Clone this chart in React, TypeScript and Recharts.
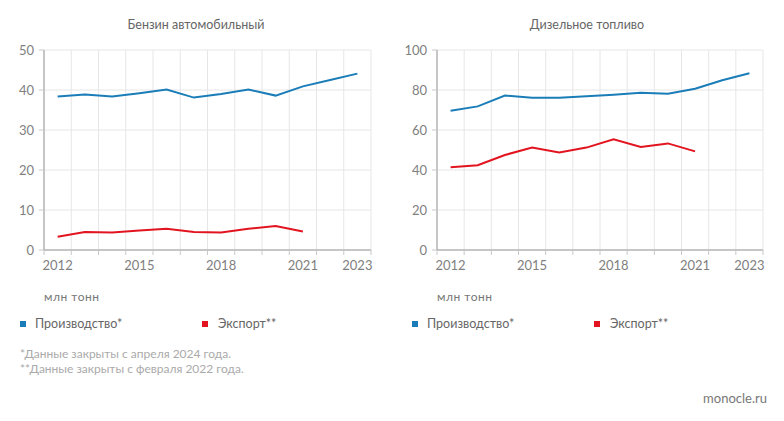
import React from "react";
import {
  LineChart,
  Line,
  XAxis,
  YAxis,
  CartesianGrid,
} from "recharts";

const YEARS = [2012, 2013, 2014, 2015, 2016, 2017, 2018, 2019, 2020, 2021, 2022, 2023];
const LABEL_YEARS = [2012, 2015, 2018, 2021, 2023];

// бензин, млн тонн
const PETROL_OUTPUT = [38.4, 38.9, 38.4, 39.2, 40.1, 38.1, 39.0, 40.1, 38.6, 40.9, 42.5, 44.1];
const PETROL_EXPORT = [3.3, 4.5, 4.4, 4.9, 5.3, 4.5, 4.4, 5.3, 6.0, 4.6];

// дизтопливо, млн тонн
const DIESEL_OUTPUT = [69.6, 71.8, 77.2, 76.1, 76.1, 76.9, 77.6, 78.6, 78.1, 80.6, 84.9, 88.4];
const DIESEL_EXPORT = [41.4, 42.4, 47.5, 51.2, 48.7, 51.2, 55.3, 51.5, 53.3, 49.3];

const PETROL_TICKS = [0, 10, 20, 30, 40, 50];
const DIESEL_TICKS = [0, 20, 40, 60, 80, 100];

const BLUE = "#1a7db8";
const RED = "#e2141f";
const FONT = "Lato, 'Open Sans', sans-serif";

const CHART_W = 392;
const CHART_H = 280;
const MARGIN_TOP = 50;
const MARGIN_RIGHT = 21;
const X_AXIS_H = 30;

// band edges: grid lines sit between years, labels sit in the middle of each band
const BOUNDS = [...YEARS.map((y) => y - 0.5), YEARS[YEARS.length - 1] + 0.5];

const buildRows = (output: number[], exp: number[]) =>
  YEARS.map((year, i) => ({
    year,
    output: output[i],
    export: i < exp.length ? exp[i] : null,
  }));

const YearTick = ({ x, y, payload, halfBand }: any) => {
  const year = payload.value + 0.5;
  if (!LABEL_YEARS.includes(year)) return null;
  return (
    <text
      x={x + halfBand}
      y={y}
      dy="0.71em"
      textAnchor="middle"
      fill="#808080"
      fontSize={13}
      fontFamily={FONT}
    >
      {year}
    </text>
  );
};

interface PanelProps {
  title: string;
  output: number[];
  exp: number[];
  ticks: number[];
  left: number;
  yAxisWidth: number;
  titleX: number;
}

function Panel({ title, output, exp, ticks, left, yAxisWidth, titleX }: PanelProps) {
  const data = buildRows(output, exp);
  const plotW = CHART_W - MARGIN_RIGHT - yAxisWidth;
  const halfBand = plotW / YEARS.length / 2;
  const legendX = left + 20;

  return (
    <>
      <div
        style={{
          position: "absolute",
          left: titleX - 100,
          width: 200,
          top: 17,
          textAlign: "center",
          fontSize: 12.5,
          color: "#666",
          fontFamily: FONT,
        }}
      >
        {title}
      </div>
      <div style={{ position: "absolute", left, top: 0 }}>
        <LineChart
          width={CHART_W}
          height={CHART_H}
          data={data}
          margin={{ top: MARGIN_TOP, right: MARGIN_RIGHT, left: 0, bottom: 0 }}
        >
          <CartesianGrid stroke="#e6e6e6" strokeWidth={1} />
          <XAxis
            dataKey="year"
            type="number"
            domain={[BOUNDS[0], BOUNDS[BOUNDS.length - 1]]}
            ticks={BOUNDS}
            interval={0}
            height={X_AXIS_H}
            tickSize={5}
            tickMargin={6}
            stroke="#999"
            tickLine={{ stroke: "#c8c8c8" }}
            tick={(p: any) => <YearTick {...p} halfBand={halfBand} />}
          />
          <YAxis
            domain={[ticks[0], ticks[ticks.length - 1]]}
            ticks={ticks}
            interval={0}
            width={yAxisWidth}
            tickSize={5}
            tickMargin={5}
            stroke="#999"
            tickLine={{ stroke: "#c8c8c8" }}
            tick={{ fill: "#808080", fontSize: 13, fontFamily: FONT }}
          />
          <Line
            dataKey="output"
            stroke={BLUE}
            strokeWidth={2}
            dot={false}
            isAnimationActive={false}
          />
          <Line
            dataKey="export"
            stroke={RED}
            strokeWidth={2}
            dot={false}
            connectNulls={false}
            isAnimationActive={false}
          />
        </LineChart>
      </div>
      <div
        style={{
          position: "absolute",
          left: left + yAxisWidth,
          top: 289,
          fontSize: 12,
          letterSpacing: 0.5,
          color: "#777",
          fontFamily: FONT,
        }}
      >
        млн тонн
      </div>
      <div
        style={{
          position: "absolute",
          left: legendX,
          top: 316,
          display: "flex",
          alignItems: "center",
          fontSize: 12.5,
          color: "#666",
          fontFamily: FONT,
        }}
      >
        <span style={{ width: 6, height: 6, background: BLUE, marginRight: 9 }} />
        <span style={{ width: 167 }}>Производство*</span>
        <span style={{ width: 6, height: 6, background: RED, marginRight: 10 }} />
        <span>Экспорт**</span>
      </div>
    </>
  );
}

export default function App() {
  return (
    <div
      style={{
        position: "absolute",
        left: 0,
        top: 0,
        width: 784,
        height: 421,
        background: "#fff",
        overflow: "hidden",
      }}
    >
      <Panel
        title="Бензин автомобильный"
        output={PETROL_OUTPUT}
        exp={PETROL_EXPORT}
        ticks={PETROL_TICKS}
        left={0}
        yAxisWidth={44}
        titleX={196}
      />
      <Panel
        title="Дизельное топливо"
        output={DIESEL_OUTPUT}
        exp={DIESEL_EXPORT}
        ticks={DIESEL_TICKS}
        left={392}
        yAxisWidth={45}
        titleX={587}
      />
      <div
        style={{
          position: "absolute",
          left: 20,
          top: 346,
          fontSize: 12,
          lineHeight: "15px",
          color: "#aaa",
          fontFamily: FONT,
        }}
      >
        <div>*Данные закрыты с апреля 2024 года.</div>
        <div>**Данные закрыты с февраля 2022 года.</div>
      </div>
      <div
        style={{
          position: "absolute",
          right: 17,
          top: 390,
          fontSize: 13,
          color: "#777",
          fontFamily: FONT,
        }}
      >
        monocle.ru
      </div>
    </div>
  );
}
